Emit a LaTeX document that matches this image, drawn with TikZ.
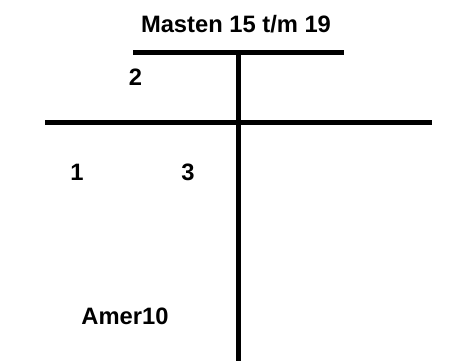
\documentclass[tikz,border=0pt]{standalone}
\usepackage{fontspec}
\setmainfont{Liberation Sans}
\usepackage{tikz}
\usetikzlibrary{positioning}

\begin{document}
\begin{tikzpicture}[
    x=0.75pt, y=-0.75pt,
    every node/.style={font=\fontsize{17.8}{20}\selectfont\bfseries, inner sep=0pt, anchor=base},
    mastline/.style={line width=3.75pt, black},
]

\useasboundingbox (0,0) rectangle (463,360);

% Title
\node (title) at (236,33) {Masten 15 t/m 19};

% Mast and cross bars
\coordinate (topL) at (133,52.5);
\coordinate (topR) at (344,52.5);
\coordinate (mastTop) at (238.5,52.5);
\coordinate (mastBot) at (238.5,362);
\coordinate (crossL) at (45,122.5);
\coordinate (crossR) at (432,122.5);

\draw[mastline] (topL) -- (topR);
\draw[mastline] (crossL) -- (crossR);
\draw[mastline] (mastTop) -- (mastBot);

% Labels
\node (two) at (135.5,85) {2};
\node (one) at (77,180) {1};
\node (three) at (188,180) {3};
\node (amer) at (125,324) {Amer10};

\end{tikzpicture}
\end{document}
